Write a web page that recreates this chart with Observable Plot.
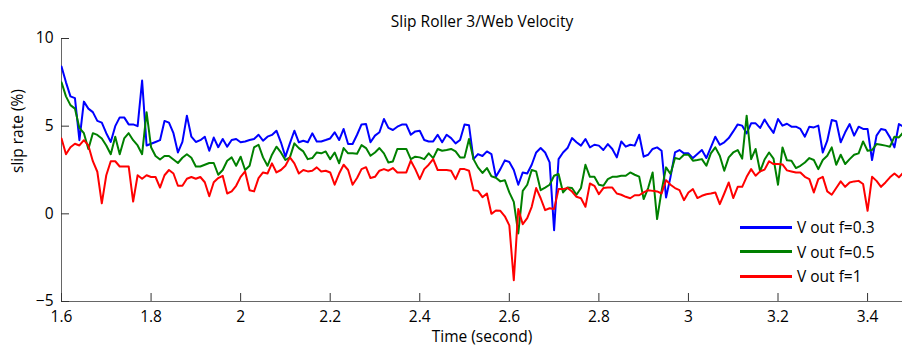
<!DOCTYPE html>
<html>
<head>
<meta charset="utf-8">
<script src="https://cdn.jsdelivr.net/npm/d3@7"></script>
<script src="https://cdn.jsdelivr.net/npm/@observablehq/plot@0.6"></script>
<style>
  html, body { margin: 0; padding: 0; background: #fff; }
  #wrap { position: relative; width: 902px; height: 349px; font-family: "Open Sans", sans-serif; }
  #legend { position: absolute; left: 740px; top: 215px; font-size: 15.5px; color: #000; }
  #legend .row { display: flex; align-items: center; height: 24.5px; }
  #legend .sw { width: 52px; height: 3px; margin-right: 5px; }
</style>
</head>
<body>
<div id="wrap"></div>
<script>
// Sampling of the recorded signals (seconds)
const tStart = 1.6;
const tStep = 0.01;

const seriesNames = ["V out f=0.3", "V out f=0.5", "V out f=1"];
const seriesColors = ["#0000ff", "#008000", "#ff0000"];

const blue = [
  8.4, 7.5, 6.7, 6.6, 4.2, 6.4, 6.0, 5.8, 5.3, 5.2,
  4.6, 4.1, 5.0, 5.5, 5.5, 5.1, 5.1, 5.0, 7.6, 3.9,
  4.0, 4.1, 4.2, 5.3, 5.2, 4.6, 3.5, 4.1, 5.6, 4.4,
  4.1, 4.2, 4.4, 3.6, 4.35, 3.8, 4.27, 3.83, 4.21, 4.27,
  4.08, 4.13, 4.21, 4.27, 4.51, 4.17, 4.4, 4.5, 4.74, 4.08,
  3.26, 4.02, 4.74, 4.08, 4.17, 4.08, 4.59, 4.13, 4.13, 4.21,
  4.3, 4.65, 4.21, 4.84, 3.98, 3.98, 4.51, 5.1, 5.12, 4.08,
  4.46, 4.65, 5.41, 4.9, 4.78, 4.97, 5.09, 5.09, 4.51, 4.7,
  4.74, 4.21, 4.13, 4.13, 4.51, 4.08, 4.51, 4.32, 4.02, 4.21,
  5.1, 5.05, 3.12, 3.41, 3.3, 3.56, 3.41, 2.11, 2.55, 3.05,
  2.96, 2.5, 1.66, 2.36, 2.3, 2.8, 3.5, 3.75, 3.5, 2.93,
  -0.93, 3.12, 3.5, 3.75, 4.32, 4.08, 3.89, 4.27, 3.79, 3.94,
  3.89, 3.64, 3.98, 3.7, 3.22, 4.13, 3.83, 3.94, 3.89, 4.51,
  3.26, 3.37, 3.7, 3.79, 3.6, 0.93, 2.11, 3.5, 3.64, 3.45,
  3.45, 3.18, 3.41, 3.64, 3.18, 3.79, 4.4, 3.94, 4.08, 4.32,
  4.7, 5.1, 5.03, 4.59, 5.16, 5.16, 4.9, 5.38, 4.97, 4.62,
  5.41, 5.03, 5.14, 4.97, 4.97, 4.84, 4.4, 4.97, 4.93, 5.03,
  3.5, 4.17, 5.35, 5.28, 4.08, 4.65, 5.12, 4.46, 4.97, 4.84,
  4.84, 3.07, 4.46, 4.84, 4.78, 4.36, 3.79, 5.12, 4.97
];

const green = [
  7.5, 6.7, 6.2, 6.0, 4.9, 4.6, 3.7, 4.6, 4.5, 4.3,
  3.9, 3.4, 4.4, 3.4, 4.3, 4.6, 4.2, 3.9, 3.4, 5.8,
  3.8, 3.3, 3.1, 3.3, 3.3, 3.1, 2.9, 3.2, 3.4, 3.2,
  2.7, 2.7, 2.8, 2.9, 2.9, 2.23, 2.5, 3.03, 3.22, 2.74,
  3.26, 2.5, 2.74, 3.79, 3.94, 3.22, 2.74, 3.37, 3.83, 3.5,
  3.07, 3.22, 4.02, 3.75, 3.56, 3.12, 3.18, 3.5, 3.45, 3.56,
  3.12, 3.5, 2.88, 3.75, 3.45, 3.45, 3.43, 3.92, 3.75, 3.31,
  3.5, 3.75, 3.45, 2.93, 2.99, 3.7, 3.7, 3.7, 3.12, 3.26,
  3.22, 3.12, 3.45, 3.18, 3.7, 3.6, 3.64, 3.7, 3.56, 3.22,
  3.22, 4.27, 3.12, 2.65, 2.33, 2.61, 2.14, 2.06, 1.85, 1.92,
  1.22, 0.68, -1.12, 1.31, 1.66, 2.5, 2.42, 1.35, 1.5, 1.66,
  2.17, 2.27, 1.22, 1.5, 1.47, 1.09, 1.47, 2.8, 2.11, 2.11,
  1.66, 1.6, 1.98, 2.11, 2.11, 2.17, 2.17, 2.36, 2.23, 2.12,
  0.84, 1.47, 2.36, -0.3, 1.31, 2.65, 2.27, 3.18, 3.12, 3.37,
  3.37, 3.03, 3.07, 3.12, 2.74, 3.45, 3.79, 3.31, 2.46, 3.22,
  3.5, 3.64, 3.15, 5.6, 3.12, 3.7, 2.42, 3.1, 3.5, 3.15,
  1.66, 3.79, 3.05, 3.03, 2.61, 2.74, 2.93, 3.18, 3.07, 2.55,
  3.07, 3.31, 3.79, 2.8, 3.37, 2.84, 3.12, 3.37, 3.45, 4.13,
  3.6, 3.64, 3.98, 3.94, 3.89, 3.83, 4.4, 4.36, 4.65
];

const red = [
  4.3, 3.4, 3.8, 4.0, 3.9, 4.2, 3.9, 3.0, 2.4, 0.6,
  2.2, 3.0, 3.0, 2.7, 2.7, 2.7, 0.7, 2.2, 2.0, 2.2,
  2.1, 2.1, 1.5, 2.2, 2.5, 2.3, 1.6, 1.6, 2.0, 2.1,
  2.0, 2.1, 1.8, 1.0, 1.8, 2.04, 2.17, 1.16, 1.28, 1.6,
  2.11, 2.42, 1.35, 1.28, 2.04, 2.36, 2.3, 2.88, 2.36, 2.5,
  2.74, 3.22, 2.88, 2.3, 2.5, 2.42, 2.46, 2.65, 2.42, 2.46,
  2.36, 1.66, 2.3, 2.8, 2.5, 1.66, 2.04, 2.55, 2.66, 2.04,
  2.11, 2.46, 2.55, 2.46, 2.61, 2.36, 2.36, 2.36, 3.03, 2.55,
  1.98, 2.55, 2.8, 3.12, 2.5, 2.5, 2.5, 2.46, 1.98, 2.55,
  2.55, 2.46, 1.35, 1.31, 0.95, 1.16, 0.0, 0.19, 0.17, -0.14,
  -0.66, -3.79, 0.27, -0.59, -0.25, 0.4, 1.47, 0.89, 0.21, 0.32,
  0.27, 1.41, 1.41, 1.47, 1.27, 0.97, 0.89, 0.4, 1.73, 1.6,
  1.12, 1.47, 1.5, 1.5, 1.16, 1.09, 0.97, 0.89, 1.06, 1.06,
  1.22, 1.35, 1.31, 1.28, 1.16, 1.92, 1.66, 1.47, 1.35, 0.78,
  1.22, 1.41, 0.9, 1.03, 1.12, 1.16, 1.22, 0.55, 1.16, 1.79,
  0.9, 1.54, 1.54, 2.11, 2.55, 2.17, 2.42, 2.52, 3.0, 2.84,
  2.84, 2.82, 2.48, 2.42, 2.36, 2.36, 2.11, 1.98, 1.22, 1.98,
  2.11, 1.28, 1.09, 1.47, 1.85, 1.54, 1.79, 1.85, 1.88, 1.7,
  0.17, 2.11, 1.88, 1.54, 1.79, 2.08, 2.3, 2.08, 2.36
];

const xTicks = [1.6, 1.8, 2, 2.2, 2.4, 2.6, 2.8, 3, 3.2, 3.4];
const yTicks = [-5, 0, 5, 10];
const xDomain = [1.6, 3.478];
const yDomain = [-5, 10];

const titleText = "Slip Roller 3/Web Velocity";
const xLabel = "Time (second)";
const yLabel = "slip rate (%)";

const allSeries = [blue, green, red];
const rows = [];
allSeries.forEach((vals, s) => {
  vals.forEach((v, i) => {
    rows.push({ t: +(tStart + i * tStep).toFixed(2), v, series: seriesNames[s] });
  });
});

const font = "Open Sans, sans-serif";
const fs = 15.5;

const chart = Plot.plot({
  width: 902,
  height: 349,
  marginLeft: 61,
  marginRight: 0,
  marginTop: 38,
  marginBottom: 48,
  style: { fontFamily: font, fontSize: fs + "px", background: "#fff", color: "#000", overflow: "visible" },
  x: { domain: xDomain, label: null },
  y: { domain: yDomain, label: null },
  color: { domain: seriesNames, range: seriesColors },
  marks: [
    Plot.ruleX([xDomain[0]], { stroke: "#666", strokeWidth: 1 }),
    Plot.ruleY([yDomain[0]], { stroke: "#666", strokeWidth: 1 }),
    Plot.axisX({ ticks: xTicks, tickSize: -8, tickFormat: () => "", stroke: "#333" }),
    Plot.axisY({ ticks: yTicks, tickSize: -8, tickFormat: () => "", stroke: "#333" }),
    Plot.axisX({ ticks: xTicks, tickSize: 0, tickPadding: 9, tickFormat: d => String(d), fontSize: fs }),
    Plot.axisY({ ticks: yTicks, tickSize: 0, tickPadding: 8, tickFormat: d => (d < 0 ? "\u2212" + Math.abs(d) : String(d)), fontSize: fs }),
    Plot.line(rows, { x: "t", y: "v", z: "series", stroke: "series", strokeWidth: 2, clip: true }),
    Plot.text([titleText], { frameAnchor: "top", dy: -23, fontSize: fs, fill: "#000" }),
    Plot.text([xLabel], { frameAnchor: "bottom", dy: 40, fontSize: fs, fill: "#000" }),
    Plot.text([yLabel], { frameAnchor: "left", dx: -43, dy: 3, rotate: -90, fontSize: fs, fill: "#000" })
  ]
});

const wrap = document.getElementById("wrap");
wrap.appendChild(chart);

const legend = document.createElement("div");
legend.id = "legend";
seriesNames.forEach((name, i) => {
  const row = document.createElement("div");
  row.className = "row";
  const sw = document.createElement("span");
  sw.className = "sw";
  sw.style.background = seriesColors[i];
  const label = document.createElement("span");
  label.textContent = name;
  row.appendChild(sw);
  row.appendChild(label);
  legend.appendChild(row);
});
wrap.appendChild(legend);
</script>
</body>
</html>
